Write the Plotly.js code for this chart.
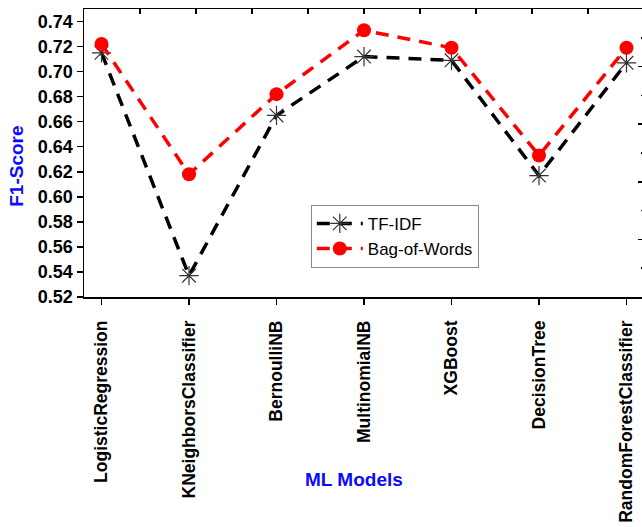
<!DOCTYPE html>
<html>
<head>
<meta charset="utf-8">
<script src="https://cdn.plot.ly/plotly-3.0.1.min.js"></script>
<style>
html,body{margin:0;padding:0;overflow:hidden;background:#fff;}
#chart{width:646px;height:527px;}
</style>
</head>
<body>
<div id="chart"></div>
<script>
const models = ["LogisticRegression","KNeighborsClassifier","BernoulliNB","MultinomialNB","XGBoost","DecisionTree","RandomForestClassifier"];
const tfidf = [0.715, 0.537, 0.665, 0.712, 0.709, 0.617, 0.707];
const bow   = [0.722, 0.618, 0.682, 0.733, 0.719, 0.633, 0.719];
const yTicks = [0.52,0.54,0.56,0.58,0.60,0.62,0.64,0.66,0.68,0.70,0.72,0.74];

const FONT = "Liberation Sans, Arial, Helvetica, sans-serif";

const traces = [
  {
    x: models, y: tfidf, name: "TF-IDF", type: "scatter", mode: "lines+markers",
    line: {color: "#000000", width: 3.5, dash: "13px,9px"},
    marker: {symbol: "asterisk-open", size: 16, color: "#333333", line: {color: "#333333", width: 1.2}}
  },
  {
    x: models, y: bow, name: "Bag-of-Words", type: "scatter", mode: "lines+markers",
    line: {color: "#ff0000", width: 3.5, dash: "13px,9px"},
    marker: {symbol: "circle", size: 14, color: "#ff0000"}
  },
  {
    x: [], y: [], xaxis: "x2", yaxis: "y2", showlegend: false, hoverinfo: "skip", type: "scatter"
  }
];

const layout = {
  width: 646, height: 527,
  margin: {l: 84, r: 2, t: 9, b: 230},
  paper_bgcolor: "#ffffff", plot_bgcolor: "#ffffff",
  showlegend: true,
  font: {family: FONT, color: "#000"},
  xaxis: {
    type: "category", range: [-0.2, 6.2],
    showline: true, linecolor: "#000", linewidth: 1.5,
    ticks: "outside", ticklen: 6, tickwidth: 1.5, tickcolor: "#000",
    tickangle: -90, ticklabelstandoff: 9,
    tickfont: {family: FONT, size: 17.5, weight: "bold", color: "#000"},
    showgrid: false, zeroline: false, fixedrange: true
  },
  yaxis: {
    range: [0.52, 0.75], tickmode: "array", tickvals: yTicks,
    ticktext: yTicks.map(v => v.toFixed(2)),
    showline: true, linecolor: "#000", linewidth: 1.5,
    ticks: "outside", ticklen: 6, tickwidth: 1.5, tickcolor: "#000",
    tickfont: {family: FONT, size: 18, weight: "bold", color: "#000"},
    showgrid: false, zeroline: false, fixedrange: true
  },
  xaxis2: {
    overlaying: "x", side: "top", range: [0, 10], dtick: 1, tick0: 0,
    showline: true, linecolor: "#000", linewidth: 1.5,
    ticks: "inside", ticklen: 5, tickwidth: 1.5, tickcolor: "#000",
    showticklabels: false, showgrid: false, zeroline: false
  },
  yaxis2: {
    overlaying: "y", side: "right", range: [0, 5], dtick: 1, tick0: 0,
    showline: true, linecolor: "#000", linewidth: 1.5,
    ticks: "inside", ticklen: 6, tickwidth: 1.5, tickcolor: "#000",
    minor: {dtick: 0.5, ticks: "inside", ticklen: 3, tickwidth: 1.5, tickcolor: "#000"},
    showticklabels: false, showgrid: false, zeroline: false
  },
  legend: {
    x: 0.405, y: 0.32, xanchor: "left", yanchor: "top",
    bgcolor: "#ffffff", bordercolor: "#8a8a8a", borderwidth: 1,
    font: {family: FONT, size: 17, color: "#000"},
    tracegroupgap: 0, itemwidth: 46
  },
  annotations: [
    {text: "F1-Score", xref: "paper", yref: "paper", x: -0.12, y: 0.455,
     xanchor: "center", yanchor: "middle", textangle: -90, showarrow: false,
     font: {family: FONT, size: 19, weight: "bold", color: "#0a0aff"}},
    {text: "ML Models", xref: "paper", yref: "paper", x: 0.483, y: -0.635,
     xanchor: "center", yanchor: "middle", showarrow: false,
     font: {family: FONT, size: 19, weight: "bold", color: "#0a0aff"}}
  ]
};

Plotly.newPlot("chart", traces, layout, {displayModeBar: false, staticPlot: true});
</script>
</body>
</html>
